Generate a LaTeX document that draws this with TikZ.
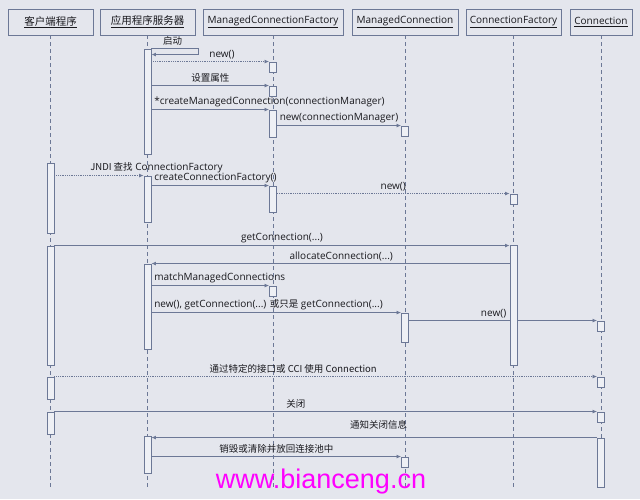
\documentclass[tikz,border=0pt]{standalone}
\usepackage{fontspec}
\setmainfont{Open Sans}
\newfontfamily\cjk{Noto Sans CJK SC}
\newfontfamily\wmfont{Liberation Sans}
\usetikzlibrary{arrows.meta}
\definecolor{seqbg}{RGB}{228,230,237}
\definecolor{seqline}{RGB}{108,120,150}
\definecolor{seqbar}{RGB}{238,240,245}
\definecolor{seqtext}{RGB}{25,25,30}
\definecolor{wmpink}{RGB}{255,0,255}
\newcommand{\zh}[1]{{\cjk\fontsize{9.5}{11}\selectfont #1}}
\pgfdeclarelayer{behind}
\pgfsetlayers{behind,main}

\begin{document}
\begin{tikzpicture}[x=1pt,y=-1pt,
  hdbox/.style={draw=seqline,line width=0.9pt,fill=seqbg,minimum height=26pt,
    inner sep=0pt,text=seqtext,font=\fontsize{10}{12}\selectfont},
  lifeline/.style={seqline,line width=0.9pt,dash pattern=on 4pt off 3pt},
  actbar/.style={draw=seqline,fill=seqbar,line width=0.9pt,minimum width=7pt,inner sep=0pt},
  msg/.style={seqline,line width=0.8pt,-{Latex[length=4.5pt,width=4pt]}},
  dotmsg/.style={msg,densely dotted},
  lbl/.style={text=seqtext,font=\fontsize{10}{12}\selectfont,inner sep=2.5pt}]
  \useasboundingbox (0,0) rectangle (640,499);

  % header boxes
  \node[hdbox,minimum width=85pt] (cl) at (50.5,22) {\underline{{\cjk\fontsize{10.5}{12}\selectfont 客户端程序}}};
  \node[hdbox,minimum width=95pt] (srv) at (147.5,22) {\underline{{\cjk\fontsize{10.5}{12}\selectfont 应用程序服务器}}};
  \node[hdbox,minimum width=140pt] (mcf) at (273,22) {\underline{ManagedConnectionFactory}};
  \node[hdbox,minimum width=106pt] (mc) at (405,22) {\underline{ManagedConnection}};
  \node[hdbox,minimum width=95pt] (cf) at (513.5,22) {\underline{ConnectionFactory}};
  \node[hdbox,minimum width=62pt] (conn) at (601,22) {\underline{Connection}};

  % activation bars: name/lifeline/top/bottom
  \foreach \n/\l/\t/\b in {s1/srv/49/154, f1/mcf/62/72, f2/mcf/86/96, f3/mcf/110/137,
      m1/mc/126/136, c1/cl/163/233, s2/srv/176/222, f4/mcf/186/212, cf1/cf/194/204,
      c2/cl/246/365, cf2/cf/245/365, s3/srv/264/349, f5/mcf/286/296, m2/mc/313/342,
      n1/conn/321/331, c3/cl/377/399, n2/conn/377/387, c4/cl/412/434, n3/conn/412/422,
      n4/conn/438/487, s4/srv/436/473, m3/mc/457/467}{
    \pgfmathsetmacro\yc{(\t+\b)/2}
    \node[actbar,minimum height=\b-\t] (\n) at (\l |- 0,\yc) {};
  }

  \begin{pgfonlayer}{behind}
  \fill[seqbg] (0,0) rectangle (640,499);
  \foreach \h in {cl,srv,mcf,mc,cf,conn}
    \draw[lifeline] (\h.south) -- (\h |- 0,487);

  % messages
  \draw[msg] (s1.north east) -- node[lbl,above,pos=0.45]{\zh{启动}} ++(47,0) -- ++(0,6) -- ++(-47,0);
  \draw[dotmsg] (s1.east |- f1.north) -- node[lbl,above,pos=0.6]{new()} (f1.north west);
  \draw[msg] (s1.east |- f2.north) -- node[lbl,above]{\zh{设置属性}} (f2.north west);
  \draw[msg] (s1.east |- f3.north) -- node[lbl,pos=0,anchor=south west]{*createManagedConnection(connectionManager)} (f3.north west);
  \draw[msg] (f3.east |- m1.north) -- node[lbl,pos=0,anchor=south west]{new(connectionManager)} (m1.north west);
  \draw[dotmsg] (c1.east |- s2.north) -- node[lbl,pos=0.37,anchor=south west]{\zh{JNDI 查找} ConnectionFactory} (s2.north west);
  \draw[msg] (s2.east |- f4.north) -- node[lbl,pos=0,anchor=south west]{createConnectionFactory()} (f4.north west);
  \draw[dotmsg] (f4.east |- cf1.north) -- node[lbl,above]{new()} (cf1.north west);
  \draw[msg] (c2.north east) -- node[lbl,above]{getConnection(...)} (cf2.west |- c2.north east);
  \draw[msg] (cf2.west |- s3.north) -- node[lbl,above,pos=0.47]{allocateConnection(...)} (s3.north east);
  \draw[msg] (s3.east |- f5.north) -- node[lbl,pos=0,anchor=south west]{matchManagedConnections} (f5.north west);
  \draw[msg] (s3.east |- m2.north) -- node[lbl,pos=0,anchor=south west]{new(), getConnection(...) \zh{或只是} getConnection(...)} (m2.north west);
  \draw[msg] (m2.east |- n1.north) -- node[lbl,above,pos=0.45]{new()} (n1.north west);
  \draw[dotmsg] (c3.north east) -- node[lbl,above,pos=0.44]{\zh{通过特定的接口或 CCI 使用 Connection}} (n2.north west);
  \draw[msg] (c4.north east) -- node[lbl,above,pos=0.445]{\zh{关闭}} (n3.north west);
  \draw[msg] (n4.north west) -- node[lbl,above=5pt,pos=0.49]{\zh{通知关闭信息}} (s4.east |- n4.north);
  \draw[msg] (s4.east |- m3.north) -- node[lbl,above]{\zh{销毁或清除并放回连接池中}} (m3.north west);
  \end{pgfonlayer}

  \node[text=wmpink,font=\wmfont\fontsize{27}{30}\selectfont,anchor=base] (wm) at (321,488) {www.bianceng.cn};
\end{tikzpicture}
\end{document}
